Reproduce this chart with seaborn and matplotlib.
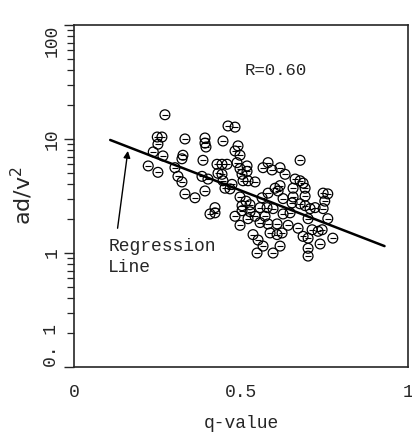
import matplotlib
matplotlib.use("Agg")
import matplotlib.pyplot as plt
import numpy as np
import pandas as pd
import seaborn as sns

# values
q_value = [
    0.272, 0.249, 0.263, 0.251, 0.332, 0.392, 0.392, 0.395, 0.237, 0.266,
    0.326, 0.323, 0.222, 0.251, 0.386, 0.302, 0.311, 0.323, 0.383, 0.401,
    0.428, 0.431, 0.392, 0.332, 0.362, 0.407, 0.422, 0.461, 0.482, 0.446,
    0.491, 0.482, 0.497, 0.443, 0.458, 0.488, 0.518, 0.518, 0.677, 0.581,
    0.566, 0.593, 0.617, 0.632, 0.662, 0.677, 0.443, 0.503, 0.506, 0.521,
    0.542, 0.452, 0.467, 0.617, 0.611, 0.656, 0.656, 0.581, 0.692, 0.497,
    0.527, 0.557, 0.503, 0.692, 0.422, 0.503, 0.515, 0.527, 0.578, 0.596,
    0.497, 0.557, 0.581, 0.608, 0.641, 0.671, 0.536, 0.551, 0.587, 0.608,
    0.623, 0.686, 0.548, 0.596, 0.677, 0.701, 0.686, 0.692, 0.746, 0.760,
    0.751, 0.653, 0.707, 0.722, 0.746, 0.760, 0.713, 0.731, 0.743, 0.701,
    0.737, 0.775, 0.701, 0.701, 0.473, 0.602, 0.497, 0.542, 0.572, 0.626,
    0.647, 0.521, 0.482, 0.617, 0.566, 0.446, 0.626, 0.563,
]
ad_v2 = [
    16.3, 10.4, 10.4, 9.0, 10.0, 10.2, 9.2, 8.5, 7.7, 7.1,
    7.2, 6.7, 5.8, 5.1, 6.5, 5.6, 4.7, 4.2, 4.7, 4.45,
    6.0, 5.0, 3.5, 3.3, 3.05, 2.2, 2.5, 13.0, 12.7, 9.6,
    8.7, 7.85, 7.2, 6.0, 6.0, 6.2, 5.8, 5.2, 6.5, 6.2,
    5.6, 5.35, 5.6, 4.9, 4.45, 4.3, 4.9, 4.9, 4.3, 4.3,
    4.2, 3.7, 3.65, 3.9, 3.5, 3.7, 3.1, 3.35, 3.15, 3.1,
    2.65, 2.5, 2.6, 2.6, 2.25, 2.35, 2.85, 2.3, 2.5, 2.45,
    1.75, 1.85, 1.8, 1.8, 1.75, 1.65, 1.45, 1.3, 1.5, 1.45,
    1.5, 1.4, 1.0, 1.0, 2.7, 2.0, 4.1, 3.7, 3.35, 3.3,
    2.85, 2.75, 2.45, 2.5, 2.45, 2.0, 1.6, 1.55, 1.6, 1.35,
    1.2, 1.35, 1.1, 0.94, 4.0, 3.7, 5.5, 2.1, 2.1, 2.2,
    2.25, 2.0, 2.1, 1.15, 1.15, 4.3, 3.0, 3.05,
]

# regression line end points
line_q = [0.108, 0.93]
line_ad = [9.8, 1.15]

y_ticks = [0.1, 1, 10, 100]
y_tick_labels = ["0. 1", "1", "10", "100"]
x_ticks = [0, 0.5, 1]
x_tick_labels = ["0", "0.5", "1"]

df = pd.DataFrame({"q": q_value, "ad": ad_v2})
line_df = pd.DataFrame({"q": line_q, "ad": line_ad})

sns.set_style("ticks")
plt.rcParams["font.family"] = ["Liberation Mono", "DejaVu Sans Mono"]

fig = plt.figure(figsize=(4.12, 4.37), dpi=100)
ax = fig.add_axes([0.180, 0.160, 0.810, 0.783])
ax.set_yscale("log")

# circles with a short bar, like the typed symbols in the scan
sns.scatterplot(data=df, x="q", y="ad", marker="o", s=50,
                facecolors="none", edgecolor="black", linewidth=0.9, ax=ax)
sns.scatterplot(data=df, x="q", y="ad", marker="_", s=16,
                color="black", linewidth=0.8, ax=ax)
sns.lineplot(data=line_df, x="q", y="ad", color="black", linewidth=1.8, ax=ax)

ax.set_xlim(0, 1)
ax.set_ylim(0.1, 100)
ax.set_xticks(x_ticks)
ax.set_xticklabels(x_tick_labels, fontsize=13)
ax.set_yticks(y_ticks)
ax.set_yticklabels(y_tick_labels, fontsize=13, rotation=90, va="center")
# end labels sit inside the axis range, as in the scan
ylabels = ax.get_yticklabels()
ylabels[0].set_va("bottom")
ylabels[-1].set_va("top")
ax.tick_params(axis="x", length=0, pad=12)
ax.tick_params(axis="y", which="major", length=7, width=1, pad=3)
ax.tick_params(axis="y", which="minor", length=5, width=0.9)

for side in ["top", "right", "left", "bottom"]:
    ax.spines[side].set_visible(True)
    ax.spines[side].set_linewidth(1.2)

ax.set_xlabel("q-value", fontsize=13, labelpad=10)
ax.set_ylabel(r"ad/v$^2$", fontsize=16, family="DejaVu Sans", labelpad=6)

ax.text(0.512, 39.5, "R=0.60", fontsize=12.5, va="center")
ax.text(0.102, 1.36, "Regression\nLine", fontsize=13, va="top", linespacing=1.35)
ax.annotate("", xy=(0.162, 8.3), xytext=(0.129, 1.56),
            arrowprops=dict(arrowstyle="-|>", color="black", lw=1.0,
                            mutation_scale=10))

fig.savefig("out.png", dpi=100)
